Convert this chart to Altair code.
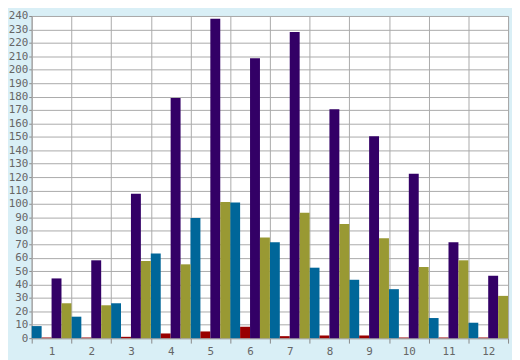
import altair as alt
import pandas as pd

months = ["1", "2", "3", "4", "5", "6", "7", "8", "9", "10", "11", "12"]
series = ["Series A", "Series B", "Series C", "Series D"]
colors = ["#006699", "#990000", "#330066", "#999933"]

blue = [9, 16, 26, 63, 89.5, 101, 71.5, 52.5, 43.5, 36.5, 15, 11.5]
red = [0.5, 0.5, 1, 3.5, 5, 8.5, 1.5, 2, 2, 0.5, 0.5, 0.5]
purple = [44.5, 58, 107.5, 179, 238, 208.5, 228, 170.5, 150.5, 122.5, 71.5, 46.5]
olive = [26, 24.5, 57.5, 55, 101.5, 75, 93.5, 85, 74.5, 53, 58, 31.5]

rows = []
for name, vals in zip(series, [blue, red, purple, olive]):
    for m, v in zip(months, vals):
        rows.append({"month": m, "series": name, "value": v})
df = pd.DataFrame(rows)

font = "DejaVu Sans Mono"

chart = (
    alt.Chart(df)
    .mark_bar()
    .encode(
        x=alt.X(
            "month:N",
            sort=months,
            scale=alt.Scale(paddingInner=0, paddingOuter=0),
            axis=alt.Axis(
                title=None,
                labelAngle=0,
                tickBand="extent",
                grid=True,
                gridColor="#aaaaaa",
                gridWidth=1,
                domainColor="#aaaaaa",
                tickColor="#888888",
                tickSize=5,
                labelFont=font,
                labelFontSize=11,
                labelColor="#666666",
                labelPadding=3,
            ),
        ),
        xOffset=alt.XOffset(
            "series:N", sort=series, scale=alt.Scale(paddingInner=0, paddingOuter=0)
        ),
        y=alt.Y(
            "value:Q",
            scale=alt.Scale(domain=[0, 240], nice=False),
            axis=alt.Axis(
                title=None,
                values=list(range(0, 241, 10)),
                grid=True,
                gridColor="#aaaaaa",
                gridWidth=1,
                domainColor="#aaaaaa",
                tickColor="#888888",
                tickSize=3,
                labelFont=font,
                labelFontSize=11,
                labelColor="#666666",
                labelPadding=1,
                labelFlush=False,
            ),
        ),
        color=alt.Color(
            "series:N",
            sort=series,
            scale=alt.Scale(domain=series, range=colors),
            legend=None,
        ),
    )
    .properties(
        width=510,
        height=352,
        autosize=alt.AutoSizeParams(type="fit", contains="padding"),
        padding={"left": 0, "top": 0, "right": 3, "bottom": 1},
        background="#d9eff6",
    )
    .configure_view(fill="white", stroke="#aaaaaa")
)

chart.save("out.html", embed_options={"renderer": "svg", "actions": False})
